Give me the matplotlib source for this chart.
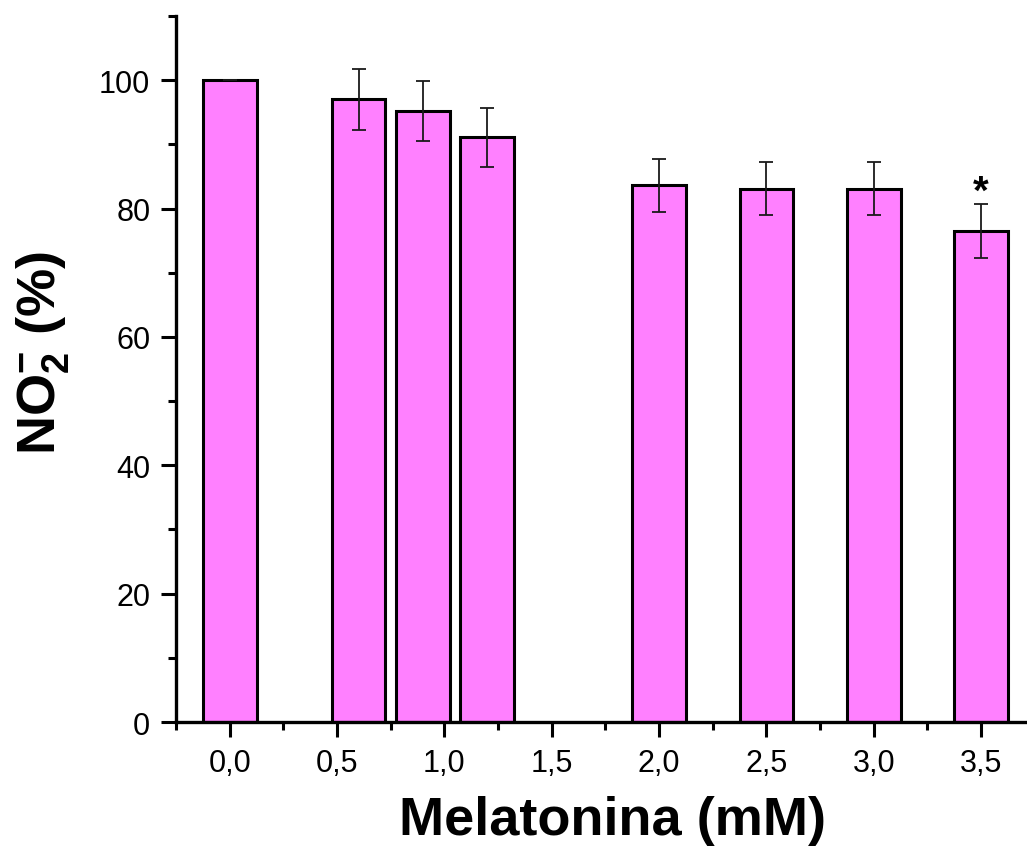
import matplotlib
matplotlib.use("Agg")
import matplotlib.pyplot as plt
from matplotlib.ticker import MultipleLocator, FuncFormatter

plt.rcParams["font.family"] = ["Liberation Sans", "DejaVu Sans"]
plt.rcParams["mathtext.fontset"] = "custom"
plt.rcParams["mathtext.rm"] = "Liberation Sans:bold"
plt.rcParams["mathtext.bf"] = "Liberation Sans:bold"
plt.rcParams["mathtext.default"] = "bf"

# melatonin concentration (mM), nitrite (% of control) and error
conc = [0.0, 0.6, 0.9, 1.2, 2.0, 2.5, 3.0, 3.5]
no2 = [100.0, 97.0, 95.2, 91.1, 83.6, 83.1, 83.1, 76.5]
err = [0.0, 4.8, 4.7, 4.6, 4.2, 4.1, 4.1, 4.15]
signif = [3.5]

fig = plt.figure(figsize=(10.27, 8.53), dpi=100)
ax = fig.add_axes([0.1714, 0.1524, 1.0 - 0.1714, 0.980 - 0.1524])

ax.bar(conc, no2, width=0.25, color="#FF80FF", edgecolor="black",
       linewidth=2.2, zorder=2)
ax.errorbar(conc, no2, yerr=err, fmt="none", ecolor="#1a1a1a",
            elinewidth=1.3, capsize=5, capthick=1.3, zorder=3)

# significance marker
for x in signif:
    i = conc.index(x)
    ax.text(x, no2[i] + err[i] - 1.0, "*", ha="center", va="bottom",
            fontsize=29, fontweight="bold")

ax.set_xlim(-0.25, 3.714)
ax.set_ylim(0, 110)

ax.xaxis.set_major_locator(MultipleLocator(0.5))
ax.xaxis.set_minor_locator(MultipleLocator(0.25))
ax.yaxis.set_major_locator(MultipleLocator(20))
ax.yaxis.set_minor_locator(MultipleLocator(10))
ax.xaxis.set_major_formatter(FuncFormatter(lambda v, p: f"{v:.1f}".replace(".", ",")))
ax.yaxis.set_major_formatter(FuncFormatter(lambda v, p: f"{v:.0f}"))

for s in ("top", "right"):
    ax.spines[s].set_visible(False)
for s in ("left", "bottom"):
    ax.spines[s].set_linewidth(2.4)

ax.tick_params(which="major", direction="out", length=10.5, width=2.2,
               labelsize=22)
ax.tick_params(which="minor", direction="out", length=6, width=2.2)
ax.tick_params(axis="y", which="major", pad=8)
ax.tick_params(axis="x", which="major", pad=8)

ax.set_xlabel("Melatonina (mM)", fontsize=39, fontweight="bold")
ax.set_ylabel(r"NO$_2^{-}$ (%)", fontsize=39, fontweight="bold")
ax.xaxis.set_label_coords(0.5135, -0.104)
ax.yaxis.set_label_coords(-0.123, 0.524)

plt.savefig("out.png", dpi=100)
